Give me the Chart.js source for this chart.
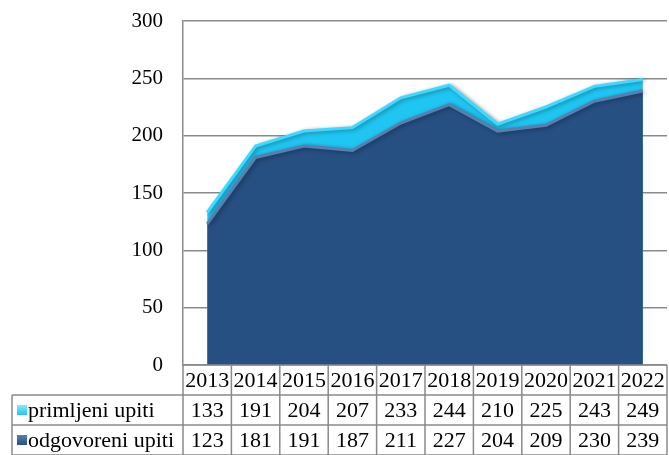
<!DOCTYPE html>
<html>
<head>
<meta charset="utf-8">
<script src="https://cdn.jsdelivr.net/npm/chart.js@4.4.1/dist/chart.umd.min.js"></script>
<style>
  html, body { margin: 0; padding: 0; background: #fff; }
  #wrap { width: 669px; height: 455px; position: relative; }
</style>
</head>
<body>
<div id="wrap"><canvas id="myChart" width="669" height="455"></canvas></div>
<script>
const years = ['2013', '2014', '2015', '2016', '2017', '2018', '2019', '2020', '2021', '2022'];
const primljeni = [133, 191, 204, 207, 233, 244, 210, 225, 243, 249];
const odgovoreni = [123, 181, 191, 187, 211, 227, 204, 209, 230, 239];
const seriesNames = ['primljeni upiti', 'odgovoreni upiti'];
const seriesColors = ['#1fc6f2', '#264f82'];

const FONT = '"Liberation Serif", "Times New Roman", serif';
const GRID = '#8a8a8a';

// sjena ispod povrsina
const areaShadow = {
    id: 'areaShadow',
    beforeDatasetsDraw(chart) {
        const c = chart.ctx;
        c.save();
        c.shadowColor = 'rgba(0,0,0,0.35)';
        c.shadowBlur = 4;
        c.shadowOffsetX = 2;
        c.shadowOffsetY = 1;
    },
    afterDatasetsDraw(chart) {
        chart.ctx.restore();
    }
};

// tablica s podacima ispod grafa
const dataTable = {
    id: 'dataTable',
    afterDraw(chart) {
        const ctx = chart.ctx;
        const x = chart.scales.x;
        const area = chart.chartArea;
        const colW = (area.right - area.left) / years.length;
        const rowH = 30;
        const top = area.bottom;
        const tableLeft = 12;
        const rows = [years, primljeni, odgovoreni];

        ctx.save();
        ctx.strokeStyle = GRID;
        ctx.lineWidth = 1.5;

        // horizontalne linije
        ctx.beginPath();
        ctx.moveTo(area.left, top);
        ctx.lineTo(area.right, top);
        for (let r = 1; r <= 3; r++) {
            ctx.moveTo(tableLeft, top + r * rowH);
            ctx.lineTo(area.right, top + r * rowH);
        }
        // vertikalne linije
        ctx.moveTo(tableLeft, top + rowH);
        ctx.lineTo(tableLeft, top + 3 * rowH);
        for (let i = 0; i <= years.length; i++) {
            ctx.moveTo(area.left + i * colW, top);
            ctx.lineTo(area.left + i * colW, top + 3 * rowH);
        }
        ctx.stroke();

        ctx.fillStyle = '#000';
        ctx.font = '22px ' + FONT;
        ctx.textBaseline = 'middle';
        ctx.textAlign = 'center';
        rows.forEach((row, r) => {
            row.forEach((v, i) => {
                ctx.fillText(String(v), x.getPixelForValue(i), top + r * rowH + rowH / 2 + 1);
            });
        });

        // legenda u tablici
        ctx.textAlign = 'left';
        seriesNames.forEach((name, s) => {
            const cy = top + (s + 1) * rowH + rowH / 2;
            const g = ctx.createLinearGradient(0, cy - 5, 0, cy + 5);
            g.addColorStop(0, s === 0 ? '#8be6ff' : '#5a7fb0');
            g.addColorStop(1, seriesColors[s]);
            ctx.fillStyle = g;
            ctx.fillRect(17, cy - 5, 10, 10);
            ctx.fillStyle = '#000';
            ctx.fillText(name, 28, cy + 1);
        });
        ctx.restore();
    }
};

const ctx = document.getElementById('myChart').getContext('2d');
new Chart(ctx, {
    type: 'line',
    data: {
        labels: years,
        datasets: [{
            label: seriesNames[1],
            data: odgovoreni,
            backgroundColor: seriesColors[1],
            borderColor: '#5a7eae',
            borderWidth: 3,
            fill: 'origin',
            pointRadius: 0,
            tension: 0,
            order: 0
        },
        {
            label: seriesNames[0],
            data: primljeni,
            backgroundColor: seriesColors[0],
            borderColor: '#3fd8ff',
            borderWidth: 3,
            fill: 'origin',
            pointRadius: 0,
            tension: 0,
            order: 1
        }]
    },
    options: {
        responsive: false,
        animation: false,
        layout: {
            padding: { top: 21, bottom: 90, right: 2, left: 0 }
        },
        plugins: {
            legend: { display: false },
            tooltip: { enabled: false }
        },
        scales: {
            x: {
                display: false,
                offset: true
            },
            y: {
                min: 0,
                max: 300,
                ticks: {
                    stepSize: 50,
                    padding: 20,
                    color: '#000',
                    font: { family: FONT, size: 21 }
                },
                grid: {
                    color: GRID,
                    lineWidth: 1.5,
                    drawTicks: false
                },
                border: { display: true, color: GRID, width: 1.5 },
                afterFit(scale) {
                    scale.width = 183;
                    scale.paddingTop = 0;
                    scale.paddingBottom = 0;
                }
            }
        }
    },
    plugins: [areaShadow, dataTable]
});
</script>
</body>
</html>
